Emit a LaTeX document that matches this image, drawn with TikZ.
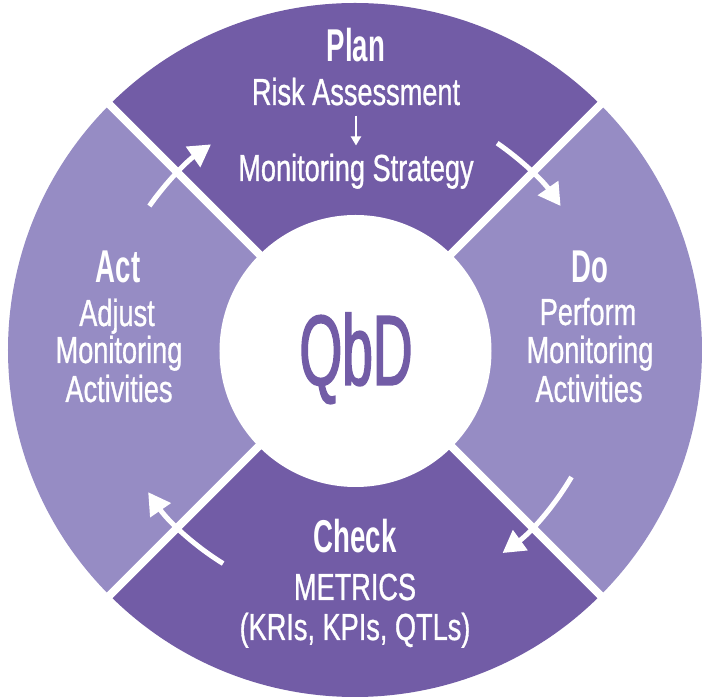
\documentclass[tikz,border=0pt]{standalone}
\usepackage{fontspec}
\usetikzlibrary{arrows.meta}
\newfontfamily\regf[FakeStretch=0.72,FakeBold=0.8]{Liberation Sans}
\newfontfamily\boldf[FakeStretch=0.6]{Liberation Sans}
\newfontfamily\qbdf[FakeStretch=0.55,FakeBold=1.5]{Liberation Sans}
\definecolor{darkpurple}{HTML}{725CA6}
\definecolor{lightpurple}{HTML}{968CC4}
\tikzset{
  lbl/.style={text=white, inner sep=0pt, anchor=base, font=\regf\fontsize{37.7}{40}\selectfont},
  hd/.style={text=white, inner sep=0pt, anchor=base, font=\boldf\bfseries\fontsize{46}{48}\selectfont},
  gap/.style={draw=white, line width=8pt},
  cyc/.style={draw=white, line width=5pt, -{Triangle[length=22pt,width=24pt]}},
  smallarr/.style={draw=white, line width=2pt, -{Triangle[length=9pt,width=10pt]}, shorten <=10pt, shorten >=8pt}
}
\begin{document}
\begin{tikzpicture}[x=1pt,y=1pt]
\useasboundingbox (-355,-350) rectangle (347,350);
\fill[white] (-355,-350) rectangle (347,350);
% sectors
\fill[darkpurple] (0,0) -- (45:347) arc[start angle=45,end angle=135,radius=347] -- cycle;
\fill[lightpurple] (0,0) -- (135:347) arc[start angle=135,end angle=225,radius=347] -- cycle;
\fill[darkpurple] (0,0) -- (225:347) arc[start angle=225,end angle=315,radius=347] -- cycle;
\fill[lightpurple] (0,0) -- (315:347) arc[start angle=315,end angle=405,radius=347] -- cycle;
% white gaps
\draw[gap] (135:352) -- (315:352);
\draw[gap] (45:352) -- (225:352);
% center
\node[circle, fill=white, minimum size=272pt, inner sep=0pt] (hub) at (0.5,-1) {};
\node[text=darkpurple, inner sep=0pt, anchor=base, font=\qbdf\fontsize{100}{100}\selectfont] (qbd) at (1,-35) {QbD};
% Plan
\node[hd] (plan) at (1,288) {Plan};
\node[lbl] (risk) at (1,245) {Risk Assessment};
\node[lbl] (strat) at (1,169) {Monitoring Strategy};
\draw[smallarr] (risk.south) -- (strat.north);
% Do
\node[hd] (do) at (235,67) {Do};
\node[lbl] (do1) at (233,25) {Perform};
\node[lbl] (do2) at (235,-13) {Monitoring};
\node[lbl] (do3) at (234,-52) {Activities};
% Check
\node[hd] (check) at (0,-203) {Check};
\node[lbl] (ch1) at (0,-250) {METRICS};
\node[lbl] (ch2) at (0,-290) {(KRIs, KPIs, QTLs)};
% Act
\node[hd] (act) at (-237,67) {Act};
\node[lbl] (act1) at (-238,24) {Adjust};
\node[lbl] (act2) at (-236,-13) {Monitoring};
\node[lbl] (act3) at (-236,-52) {Activities};
% cycle arrows
\coordinate (c1) at (145:251);
\coordinate (c2) at (55.5:251);
\coordinate (c3) at (-30.4:251);
\coordinate (c4) at (238.3:251);
\draw[cyc] (c1) arc[start angle=145,end angle=125,radius=251];
\draw[cyc] (c2) arc[start angle=55.5,end angle=35,radius=251];
\draw[cyc] (c3) arc[start angle=-30.4,end angle=-54,radius=251];
\draw[cyc] (c4) arc[start angle=238.3,end angle=214.5,radius=251];
\end{tikzpicture}
\end{document}
